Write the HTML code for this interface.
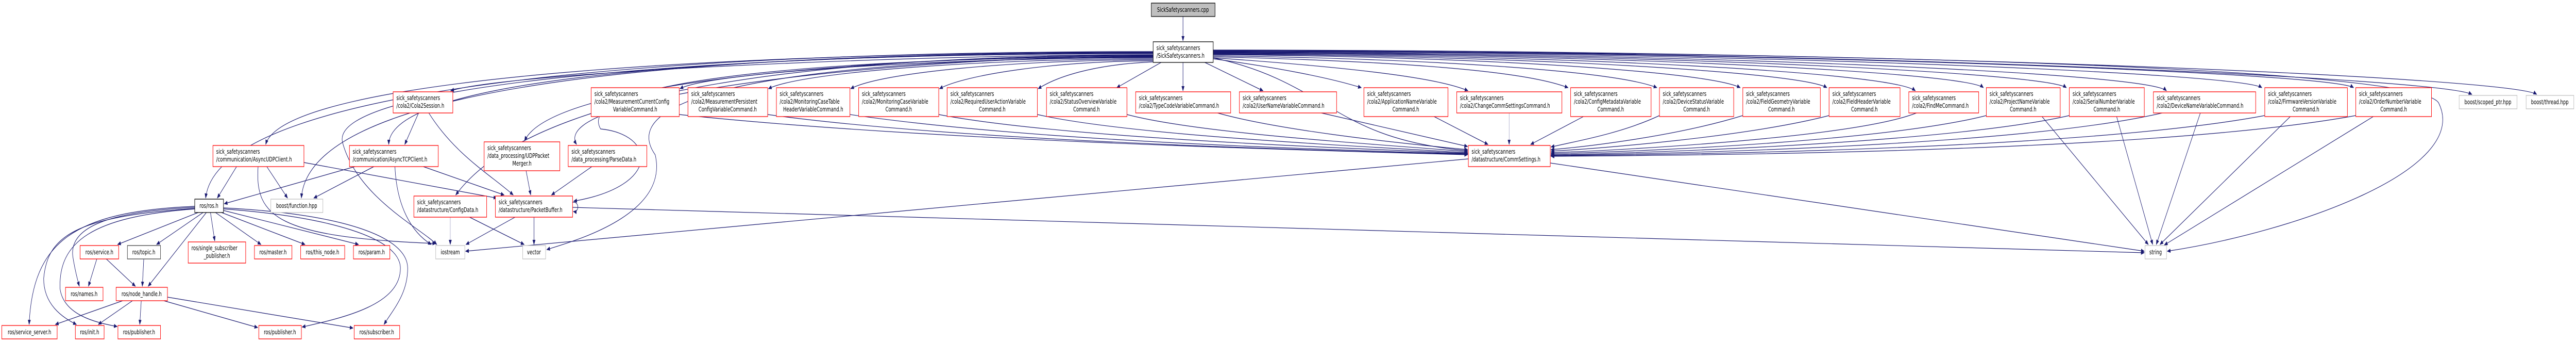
<!DOCTYPE html>
<html><head><meta charset="utf-8">
<style>
html,body{margin:0;padding:0;background:#fff;width:100%;height:100%;overflow:hidden}
svg{display:block;position:absolute;left:0;top:0;width:100vw;height:100vh}
text{font-family:"DejaVu Sans","Liberation Sans",sans-serif;font-size:12px;fill:#000}
.r{fill:#fff;stroke:#ff0000;stroke-width:1.3}
.k{fill:#fff;stroke:#000;stroke-width:1.3}
.g{fill:#fff;stroke:#bfbfbf;stroke-width:1.3}
.e path{fill:none;stroke:#191970;stroke-width:1.2;marker-end:url(#a)}
.m{text-anchor:middle}
</style></head><body>
<svg viewBox="0 0 7077 663" preserveAspectRatio="none" xmlns="http://www.w3.org/2000/svg">
<defs><marker id="a" markerWidth="10" markerHeight="8" refX="9" refY="4" orient="auto" markerUnits="userSpaceOnUse"><path d="M0,0L10,4L0,8z" fill="#191970"/></marker></defs>
<g class="e">
<path d="M3250,32 L3250,79"/>
<path d="M3168,100 C2000,100 600,150 565,384"/>
<path d="M3168,101 C2000,101 780,150 730,280"/>
<path d="M3168,102 C2000,102 850,150 828,384"/>
<path d="M3168,103 C2000,103 900,160 941,276 C980,380 1150,440 1200,474"/>
<path d="M3168,104 C2000,104 1070,150 1068,280"/>
<path d="M3168,106 C2500,106 1400,140 1238,176"/>
<path d="M3168,107 C2500,107 1500,140 1252,378"/>
<path d="M3168,108 C2500,108 1520,150 1441,273"/>
<path d="M3168,109 C2500,109 1500,180 1584,280"/>
<path d="M3168,110 C2500,110 1560,140 1650,250 C1800,260 1820,360 1576,390"/>
<path d="M3168,111 C2500,111 1650,150 1800,300 C1840,420 1560,470 1502,484"/>
<path d="M3168,112 C2600,112 1950,140 1868,172"/>
<path d="M3168,114 C2700,114 2200,140 2111,172"/>
<path d="M3168,116 C2800,116 2420,140 2337,172"/>
<path d="M3168,118 C2900,118 2650,145 2581,172"/>
<path d="M3168,120 C3000,125 2900,150 2852,172"/>
<path d="M3190,121 L3068,170"/>
<path d="M3250,121 L3250,176"/>
<path d="M3310,121 L3470,176"/>
<path d="M3333,112 C3650,160 3660,270 4032,292"/>
<path d="M3333,114 C3500,130 3650,150 3740,170"/>
<path d="M3333,112 C3700,130 3950,150 4033,176"/>
<path d="M3333,110 C3900,120 4200,140 4308,170"/>
<path d="M3333,108 C4000,115 4450,140 4552,170"/>
<path d="M3333,106 C4100,110 4700,140 4781,170"/>
<path d="M3333,105 C4200,108 4950,140 5019,170"/>
<path d="M3333,104 C4300,106 5200,140 5262,176"/>
<path d="M3333,103 C4400,104 5400,140 5449,170"/>
<path d="M3333,102 C4500,103 5620,140 5677,170"/>
<path d="M3333,101 C4600,102 5900,140 5952,176"/>
<path d="M3333,100 C4700,100 6150,140 6214,170"/>
<path d="M3333,99 C4800,99 6400,140 6466,170"/>
<path d="M3333,98 C5000,98 6700,150 6791,183"/>
<path d="M3333,97 C5200,97 6900,150 6969,183"/>
<path d="M3333,99 C5000,99 6650,130 6700,200 C6790,330 6300,450 5954,487"/>
<path d="M1866,222 C2500,270 3500,290 4032,300"/>
<path d="M2109,222 C2600,270 3500,290 4032,299"/>
<path d="M2335,222 C2800,270 3500,288 4032,298"/>
<path d="M2579,222 C2900,265 3600,285 4032,297"/>
<path d="M2850,222 C3100,262 3700,282 4032,296"/>
<path d="M3096,222 C3300,260 3800,280 4032,294"/>
<path d="M3345,219 C3500,250 3800,275 4032,290"/>
<path d="M3630,219 L4032,284"/>
<path d="M3940,226 L4088,280"/>
<path d="M4146,219 L4146,280" style="stroke:#8080b0;stroke-width:0.8"/>
<path d="M4350,226 L4205,280"/>
<path d="M4559,224 C4450,260 4320,275 4261,285"/>
<path d="M4788,224 C4600,265 4350,285 4261,290"/>
<path d="M5025,224 C4800,265 4400,288 4261,293"/>
<path d="M5265,219 C5100,265 4500,290 4261,296"/>
<path d="M5457,224 C5200,270 4600,292 4261,298"/>
<path d="M5685,224 C5400,270 4700,294 4261,300"/>
<path d="M5940,219 C5600,275 4800,296 4261,301"/>
<path d="M6222,224 C5800,280 4900,298 4261,302"/>
<path d="M6472,224 C6000,285 5000,300 4261,303"/>
<path d="M5610,226 L5902,474"/>
<path d="M5815,226 L5914,474"/>
<path d="M6045,219 L5924,474"/>
<path d="M6292,226 L5934,474"/>
<path d="M6520,226 L5946,475"/>
<path d="M4259,316 L5891,487"/>
<path d="M1573,402 L5891,490"/>
<path d="M4034,308 L1279,487"/>
<path d="M1150,219 L1112,280"/>
<path d="M1178,219 C1250,300 1350,340 1410,378"/>
<path d="M650,323 L597,384"/>
<path d="M733,323 L790,384"/>
<path d="M835,315 L1365,384"/>
<path d="M709,323 C700,420 760,460 1197,472"/>
<path d="M975,323 L616,395"/>
<path d="M1027,323 L862,384"/>
<path d="M1085,323 C1090,400 1130,450 1185,474"/>
<path d="M1163,323 L1385,378"/>
<path d="M1445,330 L1458,378"/>
<path d="M1626,323 L1515,378"/>
<path d="M1573,392 C1592,390 1592,412 1575,410"/>
<path d="M1237,421 L1237,474" style="stroke:#8080b0;stroke-width:0.8"/>
<path d="M1290,421 L1440,474"/>
<path d="M1415,421 L1280,474"/>
<path d="M1467,421 L1467,474"/>
<path d="M548,411 L323,474"/>
<path d="M560,411 L430,474"/>
<path d="M568,411 L407,555"/>
<path d="M578,411 L590,467"/>
<path d="M590,411 L717,474"/>
<path d="M605,411 L838,474"/>
<path d="M614,408 L985,474"/>
<path d="M535,402 C300,410 190,440 200,497 C205,520 212,540 218,555"/>
<path d="M535,400 C200,410 90,470 80,629"/>
<path d="M535,404 C200,420 130,460 120,540 C120,590 170,615 210,629"/>
<path d="M535,405 C250,420 160,470 165,560 C175,610 260,625 322,633"/>
<path d="M614,405 C900,420 1100,460 1100,520 C1100,590 950,615 830,634"/>
<path d="M614,403 C950,415 1120,460 1120,520 C1120,570 1080,600 1055,629"/>
<path d="M266,502 L243,555"/>
<path d="M292,502 L372,555"/>
<path d="M395,502 L391,555"/>
<path d="M337,583 L152,629"/>
<path d="M364,583 L270,629"/>
<path d="M388,583 L384,629"/>
<path d="M450,583 L708,635"/>
<path d="M460,576 L970,636"/>
</g>

<rect x="3163" y="6" width="175" height="26" style="fill:#bfbfbf;stroke:#000;stroke-width:1.3"/><text class="m" x="3250" y="23">SickSafetyscanners.cpp</text>
<rect class="k" x="3168" y="81" width="165" height="40"/><text x="3177" y="97">sick_safetyscanners</text><text x="3177" y="112">/SickSafetyscanners.h</text>

<rect class="r" x="1080" y="178" width="164" height="41"/><text x="1089" y="194">sick_safetyscanners</text><text x="1089" y="209">/cola2/Cola2Session.h</text>
<rect class="r" x="1624" y="170" width="242" height="56"/><text x="1633" y="186">sick_safetyscanners</text><text x="1633" y="201">/cola2/MeasurementCurrentConfig</text><text class="m" x="1745" y="216">VariableCommand.h</text>
<rect class="r" x="1890" y="170" width="219" height="56"/><text x="1899" y="186">sick_safetyscanners</text><text x="1899" y="201">/cola2/MeasurementPersistent</text><text class="m" x="1999" y="216">ConfigVariableCommand.h</text>
<rect class="r" x="2133" y="170" width="202" height="56"/><text x="2142" y="186">sick_safetyscanners</text><text x="2142" y="201">/cola2/MonitoringCaseTable</text><text class="m" x="2234" y="216">HeaderVariableCommand.h</text>
<rect class="r" x="2359" y="170" width="220" height="56"/><text x="2368" y="186">sick_safetyscanners</text><text x="2368" y="201">/cola2/MonitoringCaseVariable</text><text class="m" x="2469" y="216">Command.h</text>
<rect class="r" x="2602" y="170" width="248" height="56"/><text x="2611" y="186">sick_safetyscanners</text><text x="2611" y="201">/cola2/RequiredUserActionVariable</text><text class="m" x="2726" y="216">Command.h</text>
<rect class="r" x="2875" y="170" width="221" height="56"/><text x="2884" y="186">sick_safetyscanners</text><text x="2884" y="201">/cola2/StatusOverviewVariable</text><text class="m" x="2985" y="216">Command.h</text>
<rect class="r" x="3120" y="178" width="261" height="41"/><text x="3129" y="194">sick_safetyscanners</text><text x="3129" y="209">/cola2/TypeCodeVariableCommand.h</text>
<rect class="r" x="3405" y="178" width="267" height="41"/><text x="3414" y="194">sick_safetyscanners</text><text x="3414" y="209">/cola2/UserNameVariableCommand.h</text>
<rect class="r" x="3747" y="170" width="231" height="56"/><text x="3756" y="186">sick_safetyscanners</text><text x="3756" y="201">/cola2/ApplicationNameVariable</text><text class="m" x="3862" y="216">Command.h</text>
<rect class="r" x="4002" y="178" width="289" height="41"/><text x="4011" y="194">sick_safetyscanners</text><text x="4011" y="209">/cola2/ChangeCommSettingsCommand.h</text>
<rect class="r" x="4315" y="170" width="221" height="56"/><text x="4324" y="186">sick_safetyscanners</text><text x="4324" y="201">/cola2/ConfigMetadataVariable</text><text class="m" x="4425" y="216">Command.h</text>
<rect class="r" x="4559" y="170" width="204" height="56"/><text x="4568" y="186">sick_safetyscanners</text><text x="4568" y="201">/cola2/DeviceStatusVariable</text><text class="m" x="4661" y="216">Command.h</text>
<rect class="r" x="4788" y="170" width="213" height="56"/><text x="4797" y="186">sick_safetyscanners</text><text x="4797" y="201">/cola2/FieldGeometryVariable</text><text class="m" x="4894" y="216">Command.h</text>
<rect class="r" x="5025" y="170" width="195" height="56"/><text x="5034" y="186">sick_safetyscanners</text><text x="5034" y="201">/cola2/FieldHeaderVariable</text><text class="m" x="5122" y="216">Command.h</text>
<rect class="r" x="5244" y="178" width="192" height="41"/><text x="5253" y="194">sick_safetyscanners</text><text x="5253" y="209">/cola2/FindMeCommand.h</text>
<rect class="r" x="5457" y="170" width="203" height="56"/><text x="5466" y="186">sick_safetyscanners</text><text x="5466" y="201">/cola2/ProjectNameVariable</text><text class="m" x="5558" y="216">Command.h</text>
<rect class="r" x="5685" y="170" width="206" height="56"/><text x="5694" y="186">sick_safetyscanners</text><text x="5694" y="201">/cola2/SerialNumberVariable</text><text class="m" x="5788" y="216">Command.h</text>
<rect class="r" x="5916" y="178" width="281" height="41"/><text x="5925" y="194">sick_safetyscanners</text><text x="5925" y="209">/cola2/DeviceNameVariableCommand.h</text>
<rect class="r" x="6222" y="170" width="227" height="56"/><text x="6231" y="186">sick_safetyscanners</text><text x="6231" y="201">/cola2/FirmwareVersionVariable</text><text class="m" x="6335" y="216">Command.h</text>
<rect class="r" x="6472" y="170" width="208" height="56"/><text x="6481" y="186">sick_safetyscanners</text><text x="6481" y="201">/cola2/OrderNumberVariable</text><text class="m" x="6576" y="216">Command.h</text>
<rect class="g" x="6756" y="185" width="159" height="26"/><text class="m" x="6835" y="202">boost/scoped_ptr.hpp</text>
<rect class="g" x="6940" y="185" width="131" height="26"/><text class="m" x="7005" y="202">boost/thread.hpp</text>

<rect class="r" x="585" y="282" width="250" height="41"/><text x="594" y="298">sick_safetyscanners</text><text x="594" y="313">/communication/AsyncUDPClient.h</text>
<rect class="r" x="960" y="282" width="244" height="41"/><text x="969" y="298">sick_safetyscanners</text><text x="969" y="313">/communication/AsyncTCPClient.h</text>
<rect class="r" x="1330" y="275" width="208" height="56"/><text x="1339" y="291">sick_safetyscanners</text><text x="1339" y="306">/data_processing/UDPPacket</text><text class="m" x="1434" y="321">Merger.h</text>
<rect class="r" x="1561" y="282" width="216" height="41"/><text x="1570" y="298">sick_safetyscanners</text><text x="1570" y="313">/data_processing/ParseData.h</text>
<rect class="r" x="4034" y="282" width="225" height="41"/><text x="4043" y="298">sick_safetyscanners</text><text x="4043" y="313">/datastructure/CommSettings.h</text>

<rect class="k" x="535" y="386" width="79" height="26"/><text class="m" x="574" y="403">ros/ros.h</text>
<rect class="g" x="744" y="386" width="143" height="26"/><text class="m" x="815" y="403">boost/function.hpp</text>
<rect class="r" x="1137" y="380" width="200" height="41"/><text x="1146" y="396">sick_safetyscanners</text><text x="1146" y="411">/datastructure/ConfigData.h</text>
<rect class="r" x="1361" y="380" width="212" height="41"/><text x="1370" y="396">sick_safetyscanners</text><text x="1370" y="411">/datastructure/PacketBuffer.h</text>

<rect class="r" x="220" y="476" width="106" height="26"/><text class="m" x="273" y="493">ros/service.h</text>
<rect x="350" y="476" width="91" height="26" style="fill:#fff;stroke:#404040;stroke-width:1.3"/><text class="m" x="395" y="493">ros/topic.h</text>
<rect class="r" x="517" y="469" width="158" height="41"/><text x="526" y="485">ros/single_subscriber</text><text class="m" x="596" y="500">_publisher.h</text>
<rect class="r" x="699" y="476" width="103" height="26"/><text class="m" x="750" y="493">ros/master.h</text>
<rect class="r" x="826" y="476" width="121" height="26"/><text class="m" x="886" y="493">ros/this_node.h</text>
<rect class="r" x="971" y="476" width="100" height="26"/><text class="m" x="1021" y="493">ros/param.h</text>
<rect class="g" x="1197" y="476" width="80" height="26"/><text class="m" x="1237" y="493">iostream</text>
<rect class="g" x="1436" y="476" width="63" height="26"/><text class="m" x="1467" y="493">vector</text>
<rect class="g" x="5893" y="476" width="59" height="26"/><text class="m" x="5922" y="493">string</text>

<rect class="r" x="180" y="557" width="103" height="26"/><text class="m" x="231" y="574">ros/names.h</text>
<rect class="r" x="319" y="557" width="141" height="26"/><text class="m" x="389" y="574">ros/node_handle.h</text>

<rect class="r" x="5" y="631" width="152" height="26"/><text class="m" x="81" y="648">ros/service_server.h</text>
<rect class="r" x="207" y="631" width="79" height="26"/><text class="m" x="246" y="648">ros/init.h</text>
<rect class="r" x="324" y="631" width="117" height="26"/><text class="m" x="382" y="648">ros/publisher.h</text>
<rect class="r" x="711" y="631" width="117" height="26"/><text class="m" x="769" y="648">ros/publisher.h</text>
<rect class="r" x="973" y="631" width="125" height="26"/><text class="m" x="1035" y="648">ros/subscriber.h</text>
</svg>
</body></html>
